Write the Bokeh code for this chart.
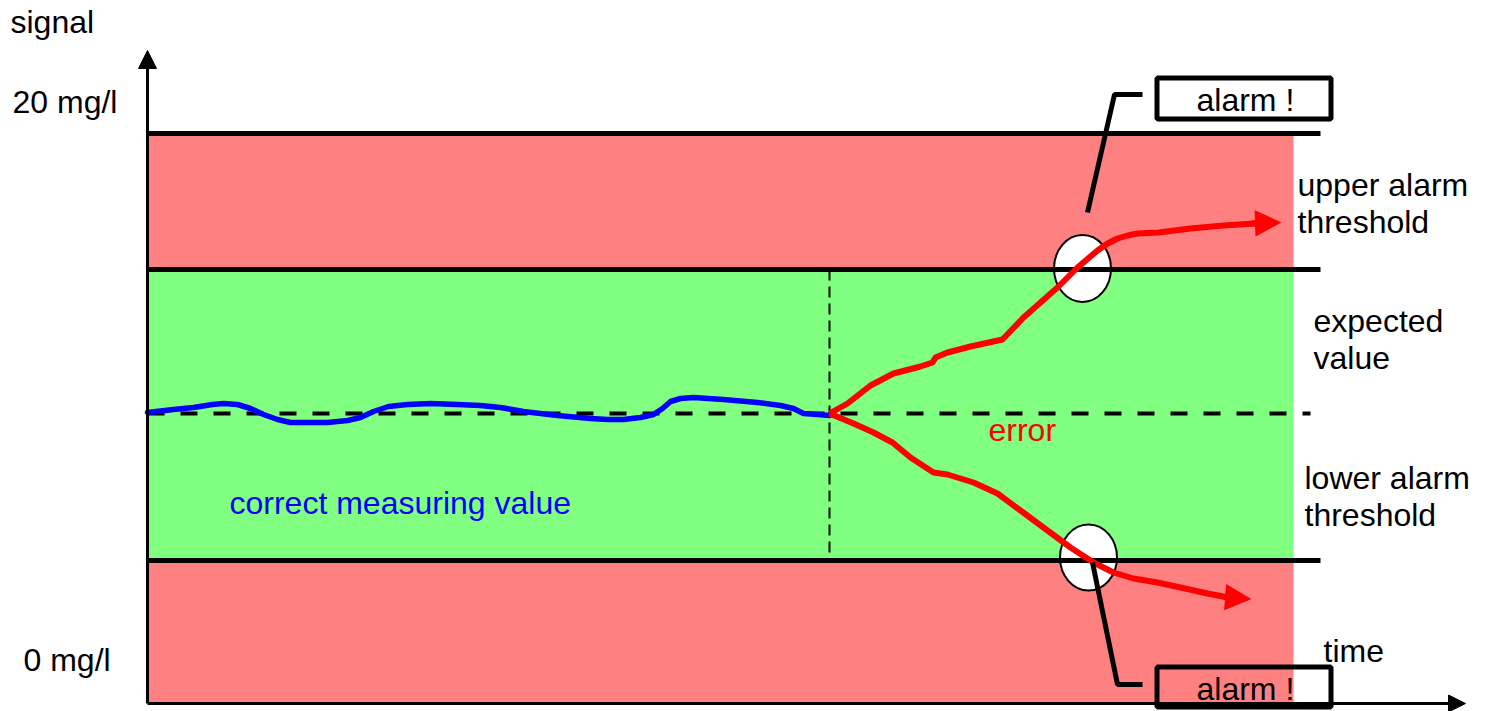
from bokeh.plotting import figure
from bokeh.models import Range1d, Arrow, NormalHead, ColumnDataSource
from bokeh.core.properties import value
from bokeh.embed import file_html
from bokeh.resources import INLINE

# ---- data (diagram coordinates: x = time position, y = signal position, screen-like units) ----
band_left = [147, 147, 147]
band_right = [1293, 1293, 1293]
band_top = [133, 269, 560]
band_bottom = [269, 560, 703]
band_colors = ["#FF8080", "#80FF80", "#FF8080"]

threshold_y = [133, 269, 560]
threshold_x0 = 147
threshold_x1 = 1320

expected_y = 413
expected_x = [147, 1310]

error_start_x = 829
error_dash_y = [269, 560]

blue_x = [147, 173, 193, 212, 223, 237, 250, 263, 277, 290, 307, 327, 347, 360, 373, 388, 407, 430,
          457, 480, 500, 523, 557, 590, 607, 623, 640, 653, 662, 670, 680, 693, 723, 757, 780, 793,
          803, 817, 829]
blue_y = [412, 409, 407, 404, 403, 404, 408, 414, 419, 422, 422, 422, 420, 417, 411, 406, 404, 403,
          404, 405, 407, 411, 415, 418, 419, 419, 417, 414, 408, 401, 398, 397, 399, 402, 405, 408,
          413, 414, 415]

upper_x = [829, 847, 870, 893, 920, 932, 935, 947, 970, 1002, 1023, 1057, 1077, 1097, 1107, 1117,
           1127, 1137, 1158, 1190, 1223, 1255]
upper_y = [413, 403, 385, 373, 366, 362, 357, 352, 346, 339, 317, 287, 267, 250, 243, 238,
           235, 233, 232, 228, 225, 223]
upper_tip = (1280, 222)

lower_x = [829, 853, 873, 892, 910, 933, 947, 973, 997, 1020, 1047, 1070, 1093, 1113, 1133, 1157,
           1180, 1207, 1228]
lower_y = [413, 423, 432, 442, 457, 472, 474, 482, 493, 510, 530, 547, 562, 572, 578, 582, 587, 593,
           597]
lower_tip = (1250, 598.5)

ellipse_x = [1082, 1088]
ellipse_y = [268, 557]
ellipse_w = [57, 57]
ellipse_h = [67, 66]

callout_top_x = [1087, 1114, 1142]
callout_top_y = [212, 94, 94]
callout_bot_x = [1092, 1117, 1142]
callout_bot_y = [562, 684, 684]

box_left = [1156.5, 1156.5]
box_right = [1330.5, 1330.5]
box_top = [77.5, 666.5]
box_bottom = [118.5, 706.5]

labels = ["signal", "20 mg/l", "0 mg/l", "upper alarm", "threshold", "expected", "value",
          "lower alarm", "threshold", "time", "alarm !", "alarm !", "correct measuring value", "error"]
label_x = [10, 12, 23, 1297, 1297, 1313, 1313, 1304, 1304, 1323, 1196, 1196, 229, 988]
label_y = [32, 112, 670, 195, 232, 331, 368, 488, 525, 661, 110, 699, 513, 440]
label_color = ["black"] * 12 + ["#0000FF", "#FF0000"]
TEXT_SHIFT = -11  # baseline correction for the renderer

origin = (147, 703)
y_axis_tip = (147, 50)
x_axis_tip = (1465, 703)

# ---- figure ----
W, H = 1487, 711
p = figure(width=W, height=H, output_backend="svg", toolbar_location=None,
           x_range=Range1d(0, W), y_range=Range1d(H, 0),
           min_border=0, outline_line_color=None, background_fill_color="white")
p.axis.visible = False
p.grid.visible = False

# bands
p.quad(left=band_left, right=band_right, top=band_top, bottom=band_bottom,
       fill_color=band_colors, line_color=None)

# ellipses (alarm markers)
p.ellipse(x=ellipse_x, y=ellipse_y, width=ellipse_w, height=ellipse_h,
          fill_color="white", line_color="black", line_width=2)

# threshold lines
for ty in threshold_y:
    p.line([threshold_x0, threshold_x1], [ty, ty], line_color="black", line_width=5)

# expected value dashed line
p.line(expected_x, [expected_y, expected_y], line_color="black", line_width=4, line_dash="17 16")

# vertical dashed line at start of error
p.line([error_start_x, error_start_x], error_dash_y, line_color="black", line_width=2, line_dash="11 6")

# blue measuring curve
p.line(blue_x, blue_y, line_color="#0000FF", line_width=5.5, line_join="round", line_cap="round")

# red error curves
p.line(upper_x, upper_y, line_color="#FF0000", line_width=6, line_join="round")
p.line(lower_x, lower_y, line_color="#FF0000", line_width=6, line_join="round")
p.add_layout(Arrow(end=NormalHead(size=25, fill_color="#FF0000", line_color="#FF0000", line_width=1),
                   x_start=upper_x[-1] - 5, y_start=upper_y[-1], x_end=upper_tip[0], y_end=upper_tip[1],
                   line_color="#FF0000", line_width=6))
p.add_layout(Arrow(end=NormalHead(size=25, fill_color="#FF0000", line_color="#FF0000", line_width=1),
                   x_start=lower_x[-1] - 5, y_start=lower_y[-1] - 0.5, x_end=lower_tip[0], y_end=lower_tip[1],
                   line_color="#FF0000", line_width=6))

# callout lines
p.line(callout_top_x, callout_top_y, line_color="black", line_width=5)
p.line(callout_bot_x, callout_bot_y, line_color="black", line_width=5)

# alarm boxes
p.quad(left=box_left[:1], right=box_right[:1], top=box_top[:1], bottom=box_bottom[:1],
       fill_color="white", line_color="black", line_width=5)
p.quad(left=box_left[1:], right=box_right[1:], top=box_top[1:], bottom=box_bottom[1:],
       fill_color=None, line_color="black", line_width=5)

# axes with arrows
p.add_layout(Arrow(end=NormalHead(size=18, fill_color="black", line_color="black", line_width=1),
                   x_start=origin[0], y_start=origin[1], x_end=y_axis_tip[0], y_end=y_axis_tip[1],
                   line_color="black", line_width=3))
p.add_layout(Arrow(end=NormalHead(size=17, fill_color="black", line_color="black", line_width=1),
                   x_start=origin[0], y_start=origin[1], x_end=x_axis_tip[0], y_end=x_axis_tip[1],
                   line_color="black", line_width=3))

# texts
src = ColumnDataSource(dict(x=label_x, y=[v + TEXT_SHIFT for v in label_y], text=labels, color=label_color))
p.text(x="x", y="y", text="text", source=src, text_color="color",
       text_font=value("Liberation Sans"), text_font_size="32px",
       text_align="left", text_baseline="alphabetic")

open("out.html", "w").write(file_html(p, INLINE))
